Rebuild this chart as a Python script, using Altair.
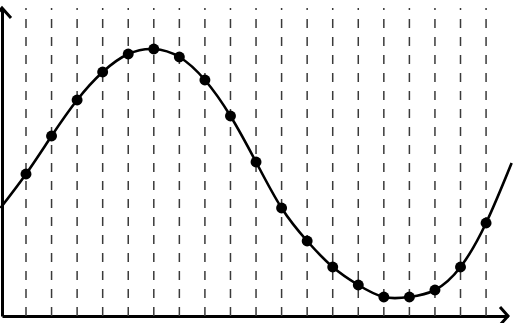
import altair as alt
import pandas as pd

# sample positions (index along x) and curve heights
curve_x = [-1, 0, 1, 2, 3, 4, 5, 6, 7, 8, 9, 10, 11, 12, 13, 14, 15, 16, 17, 18, 19]
curve_y = [108, 142, 180, 216, 244, 262, 267, 259, 236, 200, 154, 108, 75, 49, 31, 19, 19, 26, 49, 93, 153]
point_x = list(range(0, 19))
point_y = curve_y[1:20]
grid_x = list(range(0, 19))

curve_df = pd.DataFrame({"x": curve_x, "y": curve_y})
point_df = pd.DataFrame({"x": point_x, "y": point_y})
grid_df = pd.DataFrame({"x": grid_x})

xscale = alt.Scale(domain=[-0.939, 18.858], nice=False, zero=False)
yscale = alt.Scale(domain=[0, 308], nice=False, zero=False)

axis_style = dict(domain=True, domainColor="black", domainWidth=3, ticks=False,
                  labels=False, grid=False, title=None)

grid = alt.Chart(grid_df).mark_rule(color="#3a3a3a", strokeWidth=1.5, strokeDash=[9, 9]).encode(
    x=alt.X("x:Q", scale=xscale, axis=alt.Axis(**axis_style)),
    y=alt.value(308),
    y2=alt.value(0),
)

line = alt.Chart(curve_df).mark_line(color="black", strokeWidth=2.6, interpolate="natural").encode(
    x=alt.X("x:Q", scale=xscale),
    y=alt.Y("y:Q", scale=yscale, axis=alt.Axis(**axis_style)),
)

points = alt.Chart(point_df).mark_circle(color="black", size=120, opacity=1).encode(
    x=alt.X("x:Q", scale=xscale),
    y=alt.Y("y:Q", scale=yscale),
)

arrow_df = pd.DataFrame({"a": [0]})
arrow_up = alt.Chart(arrow_df).mark_point(
    shape="M -0.9 1 L 0 0 L 0.9 1", filled=False, color="black", strokeWidth=3, size=400, opacity=1
).encode(x=alt.value(0), y=alt.value(0))
arrow_right = alt.Chart(arrow_df).mark_point(
    shape="M -0.8 -0.9 L 0 0 L -0.8 0.9", filled=False, color="black", strokeWidth=3, size=400, opacity=1
).encode(x=alt.value(506), y=alt.value(308))

chart = alt.layer(grid, line, points, arrow_up, arrow_right).properties(
    width=506, height=308,
    autosize=alt.AutoSizeParams(type="none"),
    padding={"left": 2, "top": 8, "right": 5, "bottom": 7},
    background="white",
).configure_view(strokeWidth=0)

chart.save("out.html", embed_options={"renderer": "svg", "actions": False})
